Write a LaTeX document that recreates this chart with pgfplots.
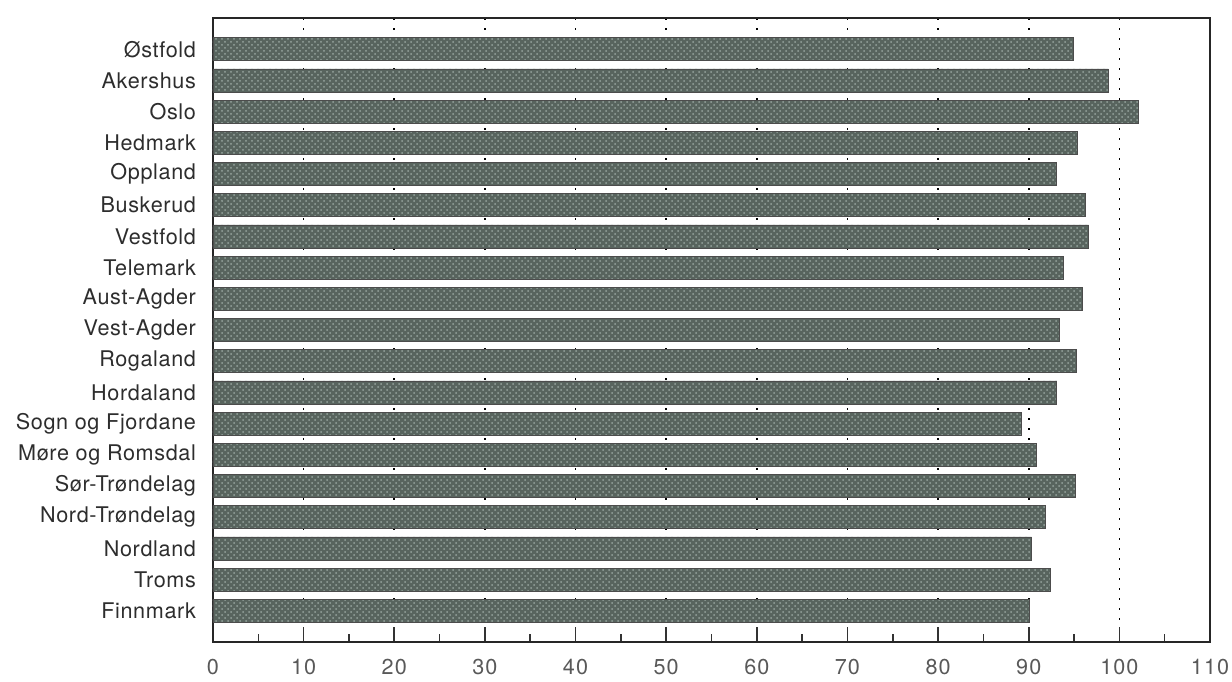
\documentclass[border=0pt]{standalone}
\usepackage{pgfplots}
\pgfplotsset{compat=1.18}
\usepackage{fontspec}
\setmainfont{TeX Gyre Heros}
\usetikzlibrary{patterns}

\definecolor{barfill}{RGB}{88,100,94}
\definecolor{bardot}{RGB}{150,164,158}
\definecolor{txt}{RGB}{45,45,45}

\begin{document}
\begin{tikzpicture}
  % fixed frame: the axis' south west corner sits at the origin
  \useasboundingbox (-106.5pt,-19.5pt) rectangle (509.5pt,321pt);
  \begin{axis}[
      at={(0,0)}, anchor=south west,
      scale only axis,
      width=498.5pt,
      height=312pt,
      xmin=0, xmax=110,
      ymin=0, ymax=20,
      y dir=reverse,
      xbar,
      bar width=11.5pt,
      axis line style={line width=1.3pt, black!85},
      xtick={0,10,...,110},
      minor xtick={5,15,...,105},
      xtick pos=bottom,
      tick align=inside,
      major tick length=7.5pt,
      minor tick length=4pt,
      tick style={black!80, line width=0.8pt},
      xmajorgrids,
      grid style={dash pattern=on 0.8pt off 4.2pt, black, line width=0.8pt},
      ytick={1,...,19},
      yticklabels={Østfold,Akershus,Oslo,Hedmark,Oppland,Buskerud,Vestfold,Telemark,Aust-Agder,Vest-Agder,Rogaland,Hordaland,Sogn og Fjordane,Møre og Romsdal,Sør-Trøndelag,Nord-Trøndelag,Nordland,Troms,Finnmark},
      ytick style={draw=none},
      yticklabel style={font=\fontsize{10.8}{12}\selectfont\addfontfeature{LetterSpace=3}, text=txt, xshift=-5pt},
      xticklabel style={font=\fontsize{10.8}{12}\selectfont\addfontfeature{LetterSpace=5}, text=black!65, yshift=-5pt},
      /pgf/number format/assume math mode=true,
    ]
    \addplot[fill=barfill, draw=black!70, line width=0.4pt,
      postaction={pattern=crosshatch dots, pattern color=bardot}]
      coordinates {
        (94.9,1) (98.8,2) (102.1,3) (95.4,4) (93.1,5) (96.2,6) (96.6,7)
        (93.8,8) (95.9,9) (93.4,10) (95.3,11) (93.1,12) (89.2,13) (90.9,14)
        (95.1,15) (91.8,16) (90.3,17) (92.4,18) (90.1,19)
      };
  \end{axis}
\end{tikzpicture}
\end{document}
